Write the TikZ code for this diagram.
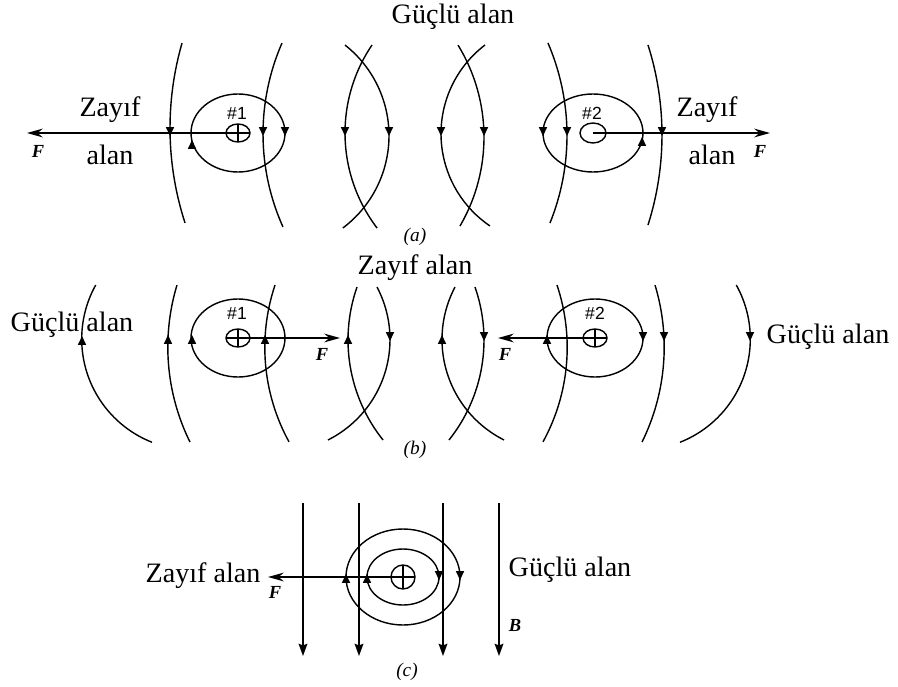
\documentclass[tikz,border=0pt]{standalone}
\usepackage{fontspec}
\setmainfont{Liberation Serif}
\setsansfont{Liberation Sans}
\usetikzlibrary{arrows.meta}

% small field direction marks
\newcommand\dnmark[2]{\draw[fieldtip] (#1,#2-2) -- (#1,#2+3);}
\newcommand\upmark[2]{\draw[fieldtip] (#1,#2+2) -- (#1,#2-3);}
% field line as a circular arc: centre x, centre y, radius, start, end
\newcommand\fieldarc[5]{\draw (#1,#2) ++(#4:#3) arc[start angle=#4, end angle=#5, radius=#3];}
% conductor cross section
\newcommand\wireplus[1]{%
  \draw (#1) ellipse [x radius=12, y radius=9];
  \draw (#1) ++(-12,0) -- ++(24,0) (#1) ++(0,-9) -- ++(0,18);}

\begin{document}
\begin{tikzpicture}[x=0.02cm, y=-0.02cm, line width=0.8pt,
    lab/.style={font=\fontsize{16}{19}\selectfont},
    flab/.style={font=\bfseries\itshape\fontsize{10.5}{12}\selectfont},
    numlab/.style={font=\sffamily\fontsize{10}{12}\selectfont},
    caplab/.style={font=\itshape\fontsize{11}{12}\selectfont},
    fieldtip/.style={-{Triangle[length=5pt,width=4.5pt]}},
    force/.style={-{Stealth[length=9pt,width=5pt,inset=3pt]}},
    bline/.style={-{Stealth[length=7pt,width=5pt,inset=1pt]}}]
    \useasboundingbox (0,0) rectangle (898,686);

    % (a) iki zit akim
    \coordinate (w1a) at (238,133);
    \coordinate (w2a) at (593,133);
    \coordinate (fa1) at (27,133);
    \coordinate (fa2) at (770,133);
    \fieldarc{476.8}{128.1}{306.8}{196.1}{162.0}
    \fieldarc{489.8}{133.9}{226.8}{203.6}{155.8}
    \fieldarc{273.6}{135.7}{115.4}{-51.8}{53.1}
    \fieldarc{501.9}{133}{156.9}{214.1}{142.7}
    \fieldarc{307.8}{137.2}{176.2}{-31.5}{30.3}
    \fieldarc{552.4}{133.7}{111.4}{232.8}{124.1}
    \fieldarc{333}{135.4}{234}{-23.3}{22}
    \fieldarc{365.7}{135}{296.3}{-17.7}{17.7}
    \draw (w1a) ellipse [x radius=47, y radius=39];
    \wireplus{w1a}
    \draw (w2a) ellipse [x radius=50, y radius=39];
    \draw (w2a) ellipse [x radius=13, y radius=10];
    \draw[force] (w1a) -- (fa1);
    \draw[force] (w2a) -- (fa2);
    \dnmark{170}{133} \dnmark{263}{133} \dnmark{345}{133} \dnmark{389}{133}
    \dnmark{441}{133} \dnmark{484}{133} \dnmark{567}{133} \dnmark{662}{133}
    \dnmark{285}{133} \upmark{192}{143}
    \dnmark{543}{133} \upmark{642}{140}
    \node[lab] (gucluA) at (453,17) {Güçlü alan};
    \node[lab] (zayifA1) at (110,110) {Zayıf};
    \node[lab] (alanA1) at (110,155) {alan};
    \node[lab] (zayifA2) at (707,110) {Zayıf};
    \node[lab] (alanA2) at (712,155) {alan};
    \node[flab] (fA1) at (38,151) {F};
    \node[flab] (fA2) at (760,151) {F};
    \node[numlab] (n1A) at (237,113) {\#1};
    \node[numlab] (n2A) at (592,113) {\#2};
    \node[caplab] (capA) at (415,237) {(a)};

    % (b) iki ayni yonlu akim
    \coordinate (w1b) at (238,338);
    \coordinate (w2b) at (595,338);
    \coordinate (fb1) at (340,338);
    \coordinate (fb2) at (498,338);
    \fieldarc{192.7}{339}{111}{209.1}{111.5}
    \fieldarc{382.2}{347.1}{214.4}{196.8}{153.7}
    \fieldarc{460.8}{347.5}{196}{198.6}{151.2}
    \fieldarc{508.3}{340}{160.3}{199.3}{141.4}
    \fieldarc{277.6}{339.5}{112.4}{-27.8}{63.4}
    \fieldarc{554.4}{339.5}{112.4}{207.8}{116.6}
    \fieldarc{323.7}{340}{160.3}{-19.3}{38.6}
    \fieldarc{371.2}{347.5}{196}{-18.6}{28.8}
    \fieldarc{449.8}{347.1}{214.4}{-16.8}{26.3}
    \fieldarc{639.3}{339}{111}{-29.1}{68.5}
    \draw (w1b) ellipse [x radius=47, y radius=39];
    \wireplus{w1b}
    \draw (w2b) ellipse [x radius=48, y radius=39];
    \wireplus{w2b}
    \draw[force] (w1b) -- (fb1);
    \draw[force] (w2b) -- (fb2);
    \upmark{82}{339} \upmark{168}{338} \upmark{265}{338} \upmark{348}{338}
    \dnmark{390}{338} \upmark{442}{338} \dnmark{484}{338}
    \dnmark{664}{338} \dnmark{750}{338}
    \upmark{192}{338} \upmark{547}{338} \dnmark{643}{338}
    \node[lab] (zayifB) at (415,268) {Zayıf alan};
    \node[lab] (gucluB1) at (72,325) {Güçlü alan};
    \node[lab] (gucluB2) at (828,337) {Güçlü alan};
    \node[flab] (fB1) at (322,354) {F};
    \node[flab] (fB2) at (505,354) {F};
    \node[numlab] (n1B) at (237,313) {\#1};
    \node[numlab] (n2B) at (595,313) {\#2};
    \node[caplab] (capB) at (415,450) {(b)};

    % (c) duzgun alanda tek iletken
    \coordinate (wc) at (403,577);
    \coordinate (fc) at (268,577);
    \foreach \bx in {303,359,443,499} {
        \coordinate (btop\bx) at (\bx,503);
        \coordinate (bbot\bx) at (\bx,656);
        \draw[bline] (btop\bx) -- (bbot\bx);
    }
    \draw (wc) ellipse [x radius=57, y radius=48];
    \draw (wc) ellipse [x radius=36, y radius=28];
    \draw (wc) circle [radius=12];
    \draw (wc) ++(-12,0) -- ++(24,0) (wc) ++(0,-12) -- ++(0,24);
    \draw[force] (wc) -- (fc);
    \upmark{346}{577} \upmark{367}{577} \dnmark{439}{577} \dnmark{460}{577}
    \node[lab] (zayifC) at (203,576) {Zayıf alan};
    \node[lab] (gucluC) at (570,570) {Güçlü alan};
    \node[flab] (fC) at (275,592) {F};
    \node[flab] (bC) at (515,625) {B};
    \node[caplab] (capC) at (407,672) {(c)};
\end{tikzpicture}
\end{document}
